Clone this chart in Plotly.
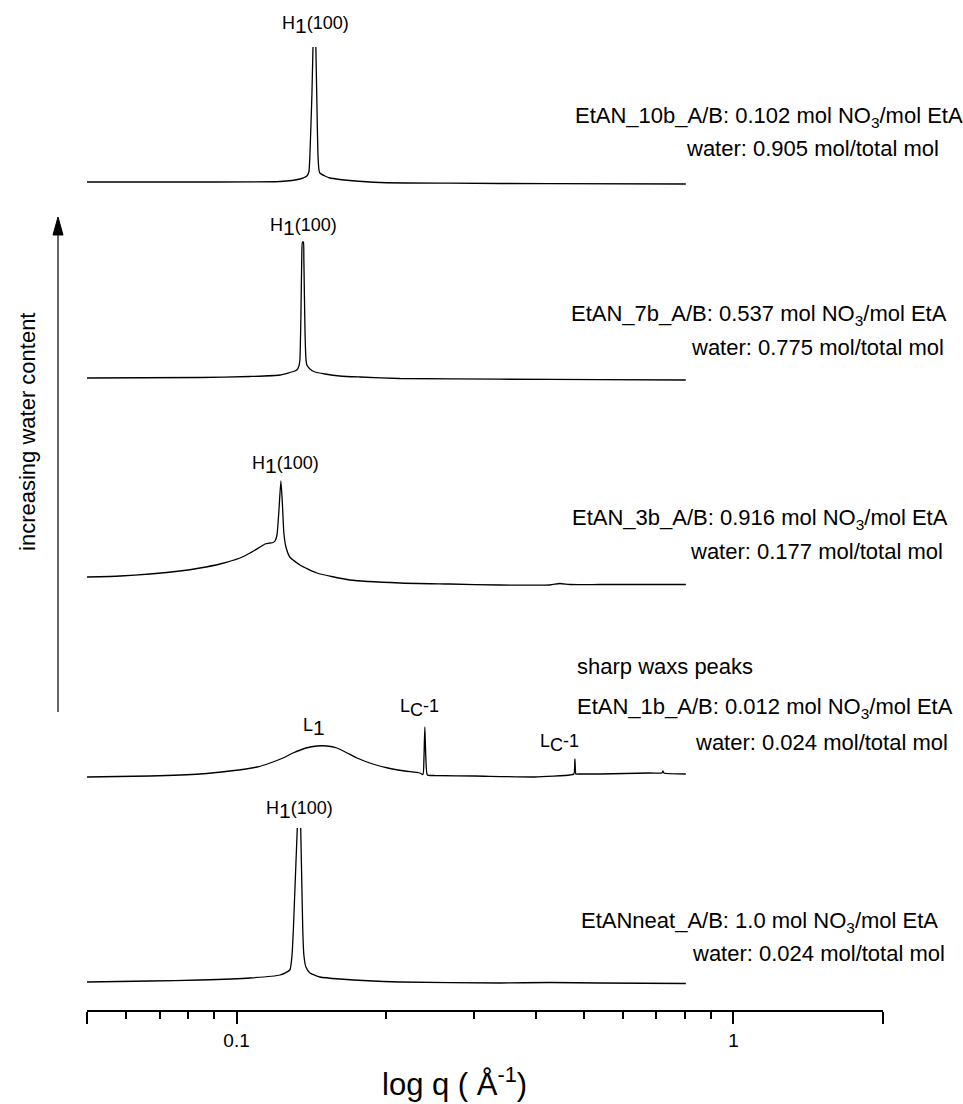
import math
import plotly.graph_objects as go

# ---------------- data ----------------
# q in 1/Angstrom, intensity in arbitrary (offset-stacked) units
q_neat = [0.0500, 0.0669, 0.0844, 0.1064, 0.1223, 0.1280, 0.1293, 0.1301, 0.1325, None,
          0.1346, 0.1359, 0.1366, 0.1379, 0.1405, 0.1471, 0.1614, 0.2132, 0.3388, 0.4272,
          0.5384, 0.8020]
i_neat = [3, 4, 5, 7, 10, 15, 30, 55, 157, None,
          157, 55, 30, 18, 12, 8, 6, 3, 2, 2.5,
          2, 1.5]

q_1b = [0.0500, 0.0669, 0.0844, 0.0970, 0.1100, 0.1168, 0.1240, 0.1299, 0.1380, 0.1451,
        0.1520, 0.1592, 0.1670, 0.1747, 0.1880, 0.2016, 0.2180, 0.2338, 0.2372, 0.2383,
        0.2393, 0.2404, 0.2421, 0.2507, 0.3017, 0.3984, 0.4687, 0.4775, 0.4797, 0.4819,
        0.4862, 0.5384, 0.6789, 0.7178, 0.7212, 0.7245, 0.8020]
i_1b = [1, 2, 4, 7, 11, 15, 20, 25, 30, 32,
        32, 30, 25, 20, 14, 10, 7, 5, 3.5, 20,
        51, 20, 3, 2.5, 2, 1, 3, 4, 19, 4,
        4, 4, 5, 5, 7, 5, 4]

q_3b = [0.0500, 0.0583, 0.0669, 0.0769, 0.0844, 0.0926, 0.1016, 0.1064, 0.1115, 0.1141,
        0.1168, 0.1184, 0.1195, 0.1206, 0.1217, 0.1228, 0.1237, 0.1245, 0.1257, 0.1280,
        0.1341, 0.1451, 0.1690, 0.2132, 0.2687, 0.3388, 0.4272, 0.4473, 0.4687, 0.5384,
        0.8020]
i_3b = [8, 9, 11, 14, 17, 21, 27, 32, 38, 41,
        42, 42.5, 44, 50, 75, 104, 80, 52, 38, 28,
        20, 12, 5, 2, 1, 0, 0, 1.5, 0.5, 0.5,
        0.5]

q_7b = [0.0500, 0.0844, 0.1064, 0.1223, 0.1310, 0.1322, 0.1335, 0.1341, 0.1347, 0.1353,
        0.1357, 0.1363, 0.1366, 0.1373, 0.1379, 0.1385, 0.1405, 0.1438, 0.1506, 0.1614,
        0.1771, 0.2132, 0.3388, 0.5384, 0.8020]
i_7b = [2, 2.5, 3.5, 5, 9, 10, 14, 20, 60, 125,
        138, 138, 120, 50, 22, 15, 11, 8, 6, 4,
        3, 1.5, 0.8, 0.3, 0]

q_10b = [0.0500, 0.0844, 0.1223, 0.1341, 0.1385, 0.1398, 0.1405, 0.1418, 0.1425, None,
         0.1444, 0.1451, 0.1458, 0.1465, 0.1471, 0.1506, 0.1541, 0.1614, 0.1690, 0.1943,
         0.2687, 0.4272, 0.8020]
i_10b = [2, 2, 2.5, 5, 8, 12, 30, 90, 137, None,
         137, 80, 30, 14, 11, 8, 6, 4.5, 3.5, 1.5,
         0.8, 0.3, 0]

series_q = [q_neat, q_1b, q_3b, q_7b, q_10b]
series_i = [i_neat, i_1b, i_3b, i_7b, i_10b]
offsets = [25, 232, 425, 630, 826]

sample_line1 = [
    "EtANneat_A/B: 1.0 mol NO<sub>3</sub>/mol EtA",
    "EtAN_1b_A/B: 0.012 mol NO<sub>3</sub>/mol EtA",
    "EtAN_3b_A/B: 0.916 mol NO<sub>3</sub>/mol EtA",
    "EtAN_7b_A/B: 0.537 mol NO<sub>3</sub>/mol EtA",
    "EtAN_10b_A/B: 0.102 mol NO<sub>3</sub>/mol EtA",
]
sample_line2 = [
    "water: 0.024 mol/total mol",
    "water: 0.024 mol/total mol",
    "water: 0.177 mol/total mol",
    "water: 0.775 mol/total mol",
    "water: 0.905 mol/total mol",
]

H1 = "H<sub><span style='font-size:21px'>1</span></sub>(100)"
L1 = "L<sub><span style='font-size:21px'>1</span></sub>"
LC = "L<sub><span style='font-size:18px'>C</span></sub>-1"
peak_labels = [H1, L1, LC, LC, H1, H1, H1]
peak_label_q = [0.1341, 0.1431, 0.2338, 0.4473, 0.1257, 0.1366, 0.1444]

tick_vals = [0.05, 0.1, 1, 2]
tick_text = ["", "0.1", "1", ""]
minor_vals = [0.06, 0.07, 0.08, 0.09, 0.2, 0.3, 0.4, 0.5, 0.6, 0.7, 0.8, 0.9]

# ---------------- figure ----------------
FONT = "Liberation Sans, Arial, Helvetica, sans-serif"
YTOP = 1010.0  # hidden y-axis span
fig = go.Figure()

for qs, ints, off in zip(series_q, series_i, offsets):
    ys = [None if v is None else off + v for v in ints]
    fig.add_trace(go.Scatter(x=qs, y=ys, mode="lines",
                             line=dict(color="black", width=1.3,
                                       shape="spline", smoothing=0.5),
                             connectgaps=False, showlegend=False,
                             hoverinfo="skip"))

# peak labels
label_y = [200, 283, 302, 267, 545, 783, 985]
for txt, q, y in zip(peak_labels, peak_label_q, label_y):
    fig.add_annotation(x=math.log10(q), y=y, xref="x", yref="y", text=txt,
                       showarrow=False, font=dict(family=FONT, size=18, color="black"),
                       xanchor="center", yanchor="middle")

# sample descriptions
line1_x = [0.6181, 0.6131, 0.6068, 0.6055, 0.6106]
line2_x = [0.7575, 0.7613, 0.7550, 0.7563, 0.7500]
line1_y = [88, 302, 491, 695, 893]
line2_y = [57, 268, 459, 663, 862]
for t1, t2, x1, x2, y1, y2 in zip(sample_line1, sample_line2, line1_x, line2_x, line1_y, line2_y):
    fig.add_annotation(x=x1, y=y1 / YTOP, xref="paper", yref="paper", text=t1,
                       showarrow=False, xanchor="left", yanchor="middle",
                       font=dict(family=FONT, size=22, color="black"))
    fig.add_annotation(x=x2, y=y2 / YTOP, xref="paper", yref="paper", text=t2,
                       showarrow=False, xanchor="left", yanchor="middle",
                       font=dict(family=FONT, size=22, color="black"))

fig.add_annotation(x=0.6131, y=343 / YTOP, xref="paper", yref="paper",
                   text="sharp waxs peaks", showarrow=False,
                   xanchor="left", yanchor="middle",
                   font=dict(family=FONT, size=22, color="black"))

# increasing water content arrow + label
fig.add_shape(type="line", xref="paper", yref="paper", x0=-0.03643, x1=-0.03643,
              y0=298 / YTOP, y1=778 / YTOP, line=dict(color="black", width=1.2))
fig.add_shape(type="path", xref="paper", yref="paper",
              path="M -0.03643,%.5f L -0.04271,%.5f L -0.03015,%.5f Z"
                   % (793 / YTOP, 775 / YTOP, 775 / YTOP),
              fillcolor="black", line=dict(color="black", width=1))
fig.add_annotation(x=-0.0754, y=578 / YTOP, xref="paper", yref="paper",
                   text="increasing water content", textangle=-90, showarrow=False,
                   xanchor="center", yanchor="middle",
                   font=dict(family=FONT, size=22, color="black"))

# x-axis title (placed slightly left of the axis centre, as in the reference)
fig.add_annotation(x=(454 - 87) / 796, y=-72 / YTOP, xref="paper", yref="paper",
                   text="log q ( Å<sup>-1</sup>)", showarrow=False,
                   xanchor="center", yanchor="middle",
                   font=dict(family=FONT, size=31, color="black"))

fig.update_xaxes(type="log", range=[math.log10(0.05), math.log10(2)],
                 tickmode="array", tickvals=tick_vals, ticktext=tick_text,
                 ticks="outside", ticklen=12, tickwidth=1.5, tickcolor="black",
                 showline=True, linecolor="black", linewidth=1.5,
                 showgrid=False, zeroline=False,
                 tickfont=dict(family=FONT, size=19, color="black"),
                 minor=dict(tickvals=minor_vals, ticks="outside", ticklen=7,
                            tickwidth=1.5, tickcolor="black", showgrid=False))
fig.update_yaxes(range=[0, YTOP], visible=False, showgrid=False, zeroline=False)

fig.update_layout(width=963, height=1104,
                  margin=dict(l=87, r=80, t=0, b=94),
                  plot_bgcolor="white", paper_bgcolor="white",
                  showlegend=False)

fig.write_html("out.html")
